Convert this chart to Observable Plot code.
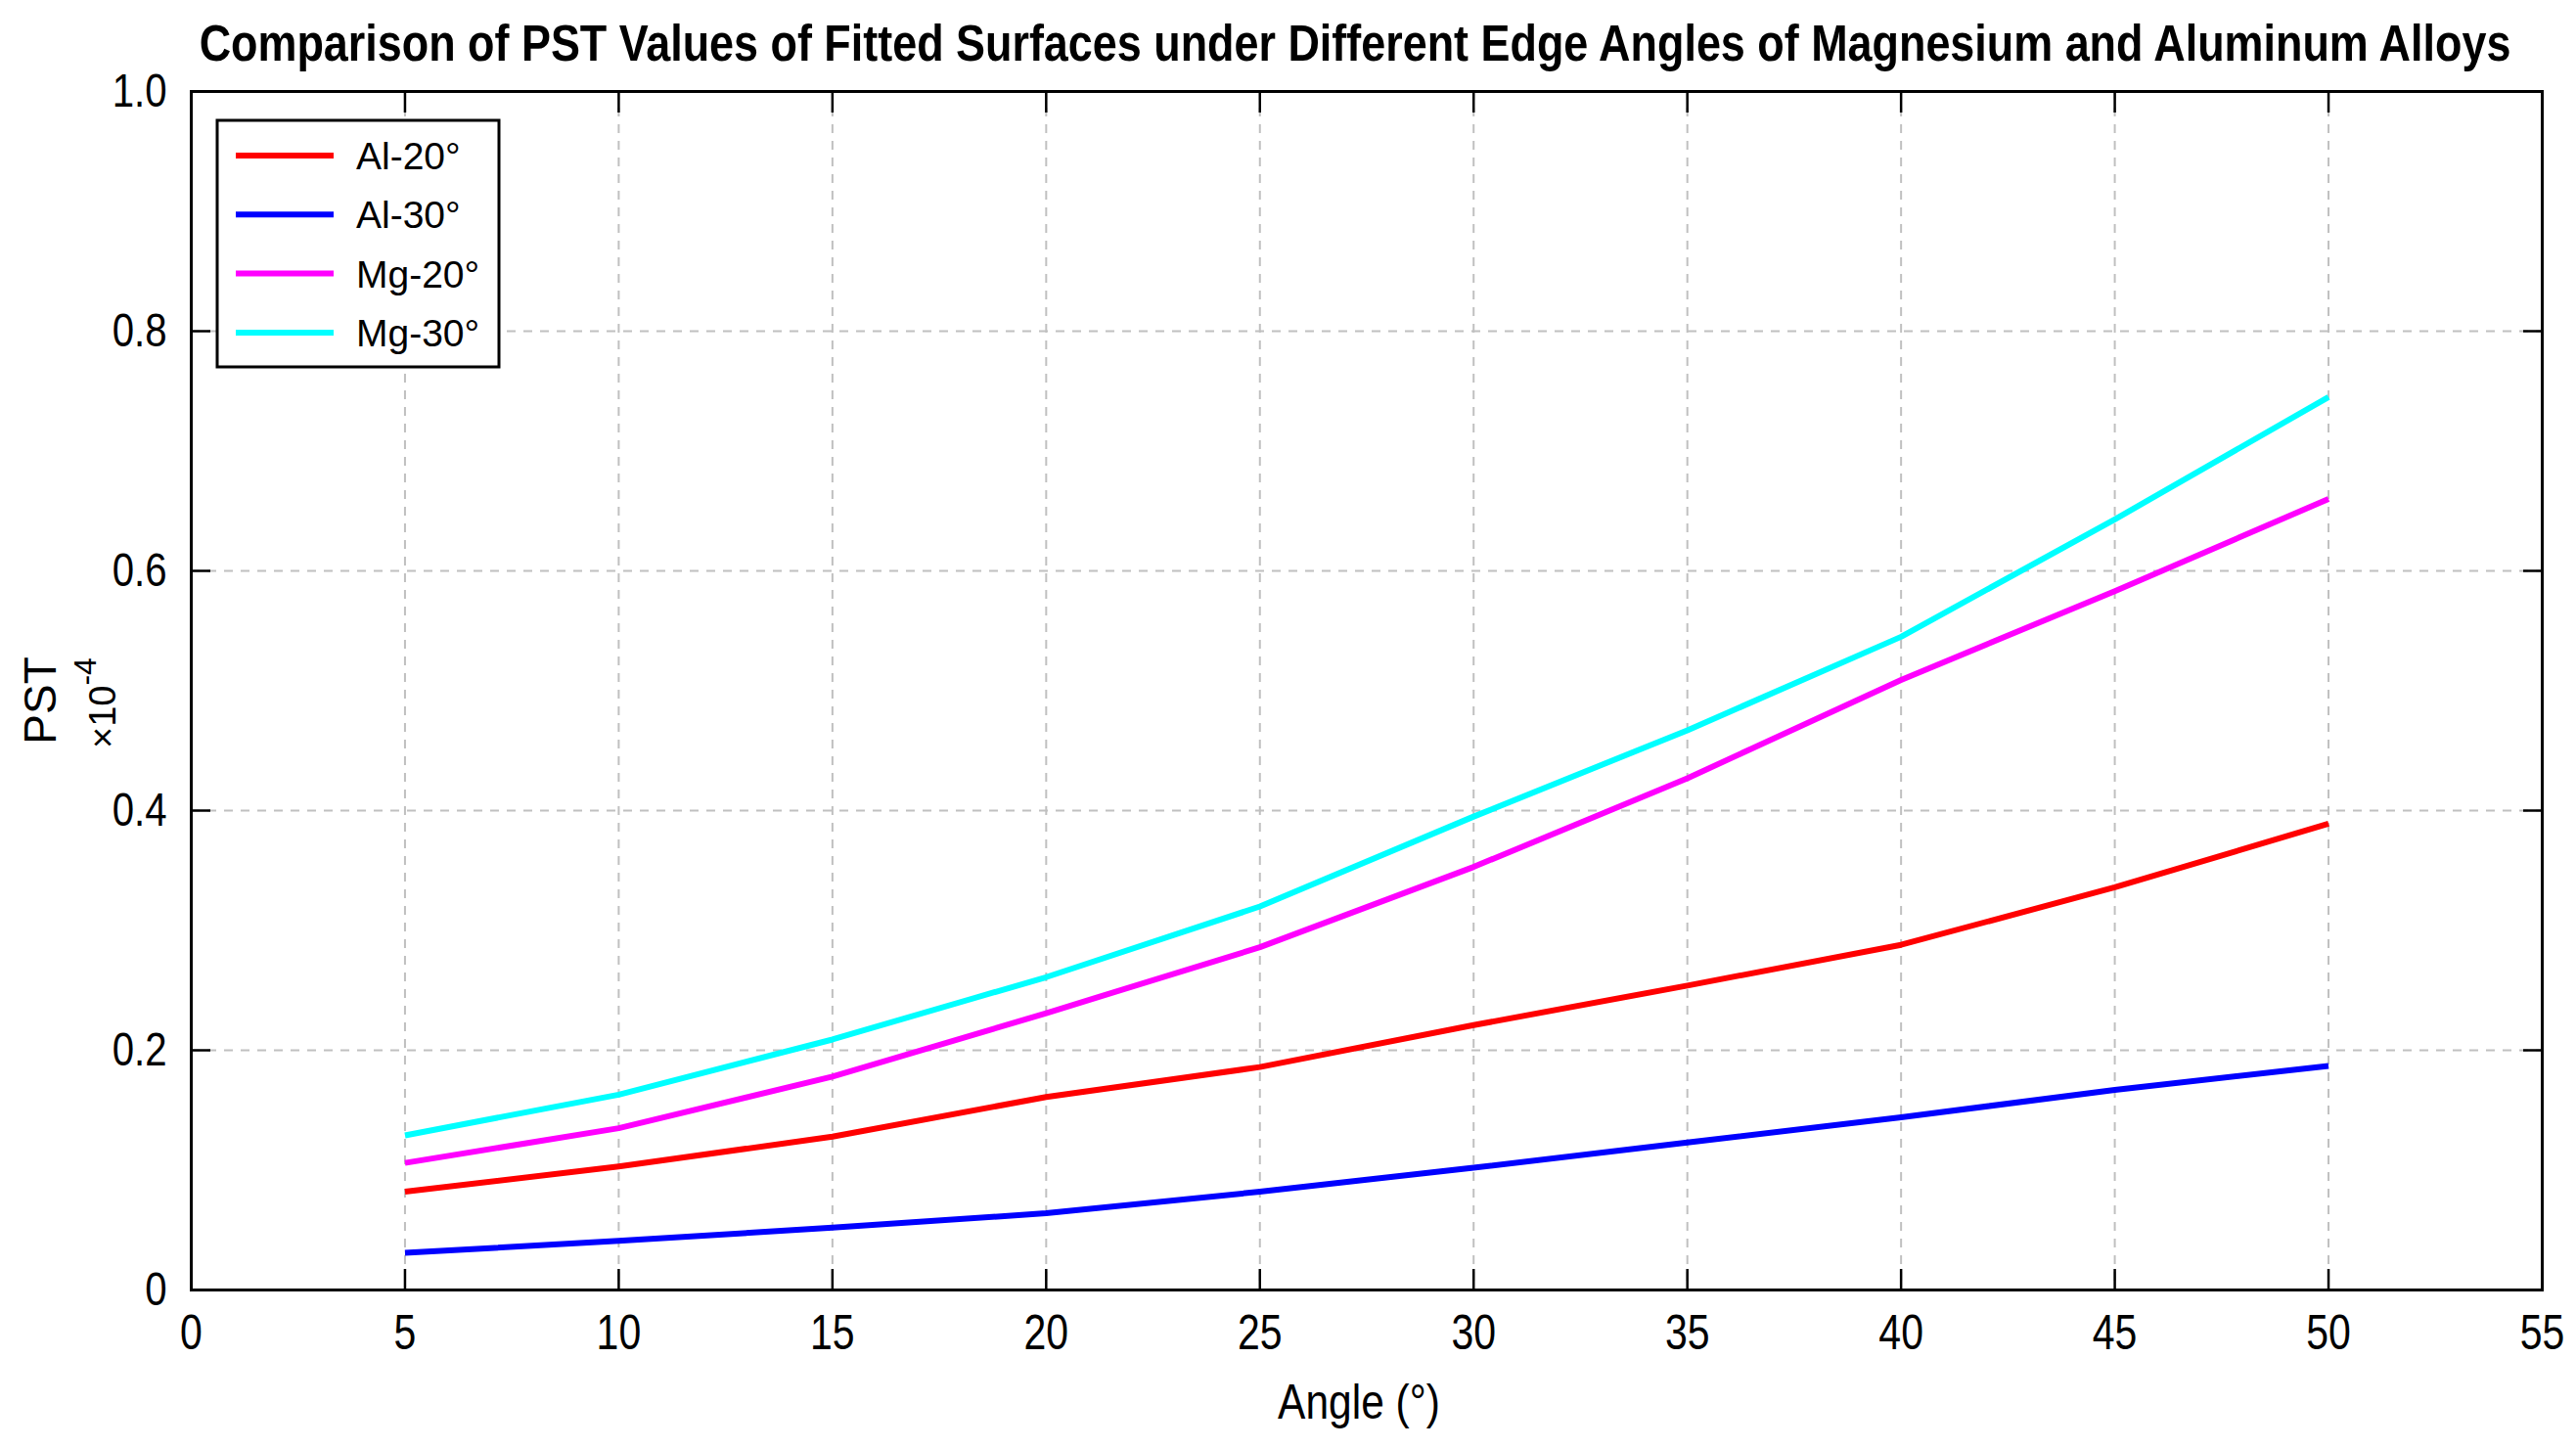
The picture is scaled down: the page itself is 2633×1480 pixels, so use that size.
<!DOCTYPE html>
<html>
<head>
<meta charset="utf-8">
<script src="https://cdn.jsdelivr.net/npm/d3@7"></script>
<script src="https://cdn.jsdelivr.net/npm/@observablehq/plot@0.6"></script>
<style>
  html, body { margin: 0; padding: 0; background: #ffffff; }
  #wrap { position: relative; width: 2633px; height: 1480px; overflow: hidden; }
  #wrap svg.overlay { position: absolute; left: 0; top: 0; pointer-events: none; }
</style>
</head>
<body>
<div id="wrap"></div>
<script>
// ---- data ----
const titleText = "Comparison of PST Values of Fitted Surfaces under Different Edge Angles of Magnesium and Aluminum Alloys";
const xLabel = "Angle (°)";
const yLabel = "PST";
const yScaleNote = "×10";
const yScaleExp = "-4";

const angles = [5, 10, 15, 20, 25, 30, 35, 40, 45, 50];
const al20 = [0.082, 0.103, 0.128, 0.161, 0.186, 0.221, 0.254, 0.288, 0.336, 0.389];
const al30 = [0.031, 0.041, 0.052, 0.064, 0.082, 0.102, 0.123, 0.144, 0.167, 0.187];
const mg20 = [0.106, 0.135, 0.178, 0.231, 0.286, 0.353, 0.427, 0.509, 0.583, 0.660];
const mg30 = [0.129, 0.163, 0.209, 0.261, 0.320, 0.395, 0.467, 0.545, 0.643, 0.745];

const seriesNames = ["Al-20°", "Al-30°", "Mg-20°", "Mg-30°"];
const seriesValues = [al20, al30, mg20, mg30];
const seriesColors = ["#ff0000", "#0000ff", "#ff00ff", "#00ffff"];

const xTicks = [0, 5, 10, 15, 20, 25, 30, 35, 40, 45, 50, 55];
const yTicks = [0, 0.2, 0.4, 0.6, 0.8, 1.0];
const yTickLabels = ["0", "0.2", "0.4", "0.6", "0.8", "1.0"];

// ---- tidy table ----
const rows = [];
seriesValues.forEach((vals, i) => {
  vals.forEach((v, j) => rows.push({angle: angles[j], pst: v, series: seriesNames[i]}));
});

const regular = "'Liberation Sans',Arial,Helvetica,sans-serif";

const W = 2633, H = 1480;
const mL = 195, mR = 35, mT = 93, mB = 162;

const grid = {stroke: "#c0c0c0", strokeOpacity: 1, strokeWidth: 2, strokeDasharray: "9,8"};

const chart = Plot.plot({
  width: W, height: H,
  marginLeft: mL, marginRight: mR, marginTop: mT, marginBottom: mB,
  style: {fontFamily: regular, fontSize: "50px", background: "#ffffff", color: "#000000"},
  x: {domain: [0, 55]},
  y: {domain: [0, 1]},
  color: {domain: seriesNames, range: seriesColors},
  marks: [
    Plot.gridX(xTicks, grid),
    Plot.gridY(yTicks, grid),
    Plot.line(rows, {x: "angle", y: "pst", z: "series", stroke: "series", strokeWidth: 6, strokeLinejoin: "round", strokeLinecap: "butt"}),
    Plot.axisX(xTicks, {anchor: "bottom", tickSize: -21, tickPadding: 46, strokeWidth: 2.5, label: null, fontSize: 50}),
    Plot.axisX(xTicks, {anchor: "top", tickSize: -21, tickFormat: () => "", strokeWidth: 2.5, label: null}),
    Plot.axisY(yTicks, {anchor: "left", tickSize: -20, tickPadding: 45, strokeWidth: 2.5, label: null, fontSize: 49,
      tickFormat: d => yTickLabels[yTicks.indexOf(d)]}),
    Plot.axisY(yTicks, {anchor: "right", tickSize: -20, tickFormat: () => "", strokeWidth: 2.5, label: null}),
    Plot.frame({stroke: "#000000", strokeWidth: 3})
  ]
});

const wrap = document.getElementById("wrap");
wrap.appendChild(chart);

// narrow the tick labels horizontally (Helvetica-Narrow look): append a horizontal scale
d3.select(chart).selectAll("g[aria-label='x-axis tick label'] text, g[aria-label='y-axis tick label'] text")
  .each(function() {
    const t = this.getAttribute("transform") || "";
    this.setAttribute("transform", `${t} scale(0.82,1)`);
  });

// ---- overlay: title, axis labels, legend ----
const ov = d3.select(wrap).append("svg")
  .attr("class", "overlay")
  .attr("xmlns", "http://www.w3.org/2000/svg")
  .attr("width", W).attr("height", H);

const title = ov.append("text")
  .attr("text-anchor", "middle")
  .style("font-family", regular).style("font-weight", "bold").style("font-size", "52px")
  .attr("fill", "#000")
  .text(titleText);
const tl = title.node().getComputedTextLength();
const ts = Math.min(1, 2363 / tl);
title.attr("transform", `translate(1385,62) scale(${ts},1)`);

ov.append("text")
  .attr("transform", "translate(1389,1450) scale(0.85,1)")
  .attr("text-anchor", "middle")
  .style("font-family", regular).style("font-size", "50px")
  .attr("fill", "#000")
  .text(xLabel);

ov.append("text")
  .attr("transform", "translate(57,716) rotate(-90)")
  .attr("text-anchor", "middle")
  .style("font-family", regular).style("font-size", "46px")
  .attr("fill", "#000")
  .text(yLabel);

const sci = ov.append("text")
  .attr("transform", "translate(118,765) rotate(-90)")
  .attr("text-anchor", "start")
  .style("font-family", regular).style("font-size", "38px")
  .attr("fill", "#000");
sci.append("tspan").text(yScaleNote);
sci.append("tspan").attr("dy", -20).style("font-size", "32px").text(yScaleExp);

// legend box
const lg = ov.append("g");
lg.append("rect")
  .attr("x", 222).attr("y", 123).attr("width", 288).attr("height", 252)
  .attr("fill", "#ffffff").attr("stroke", "#000").attr("stroke-width", 3);
seriesNames.forEach((name, i) => {
  const cy = 159 + i * 60.3;
  lg.append("line")
    .attr("x1", 241).attr("x2", 341).attr("y1", cy).attr("y2", cy)
    .attr("stroke", seriesColors[i]).attr("stroke-width", 6);
  lg.append("text")
    .attr("x", 364).attr("y", cy + 14)
    .style("font-family", regular).style("font-size", "39px")
    .attr("fill", "#000")
    .text(name);
});
</script>
</body>
</html>
